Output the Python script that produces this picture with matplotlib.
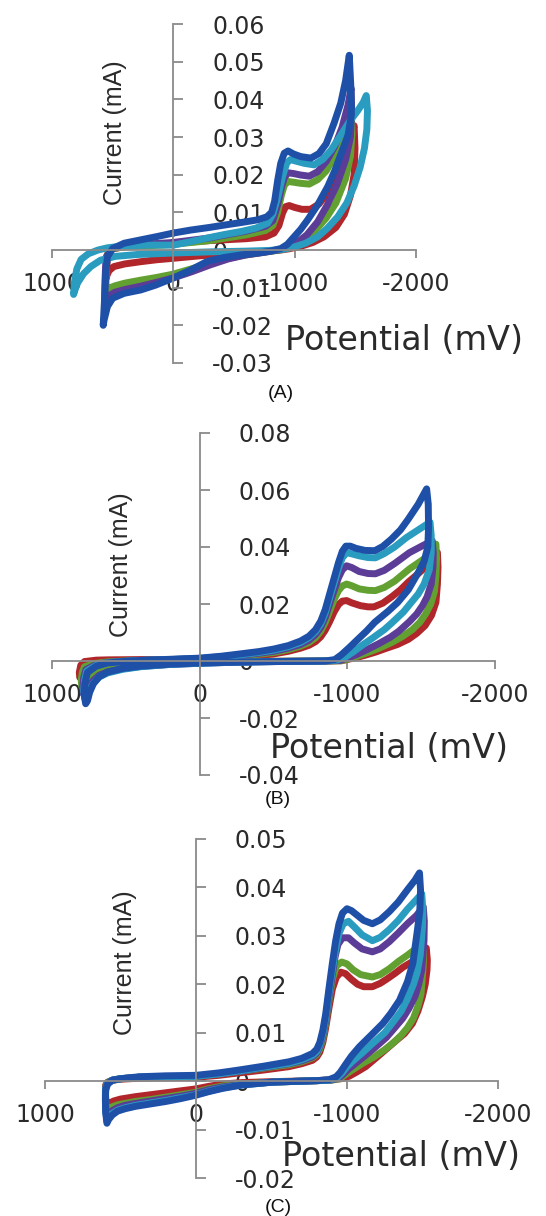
import matplotlib
matplotlib.use('Agg')
import matplotlib.pyplot as plt
from matplotlib.ticker import FuncFormatter

plt.rcParams['axes.unicode_minus'] = False
plt.rcParams['font.family'] = ['DejaVu Sans']

# ---- data: (potential mV, current mA) along each scan ----
# panel A
a_red = [(0, 0.0018), (-300, 0.0025), (-600, 0.0030), (-760, 0.0035), (-830, 0.0045), (-870, 0.0065), (-900, 0.0098),
         (-925, 0.0115), (-955, 0.0118), (-1000, 0.0113), (-1060, 0.0108), (-1130, 0.0108), (-1200, 0.0122),
         (-1280, 0.0155), (-1350, 0.0200), (-1420, 0.0260), (-1470, 0.0310), (-1490, 0.0330), (-1497, 0.0270),
         (-1490, 0.0200), (-1460, 0.0145), (-1410, 0.0095), (-1340, 0.0060), (-1242, 0.0035), (-1150, 0.0020),
         (-1052, 0.0010), (-950, 0.0003), (-887, 0.0000), (-700, -0.0005), (-550, -0.0008), (-350, -0.0012),
         (-200, -0.0016), (0, -0.0022), (140, -0.0026), (268, -0.0031), (400, -0.0037), (490, -0.0044),
         (530, -0.0055), (548, -0.0068), (552, -0.0075), (548, -0.0040), (540, -0.0010), (500, 0.0003),
         (400, 0.0009), (250, 0.0013), (100, 0.0016), (0, 0.0018)]
a_green = [(0, 0.0015), (-300, 0.0025), (-600, 0.0040), (-760, 0.0052), (-820, 0.0065), (-860, 0.0100),
           (-890, 0.0145), (-915, 0.0172), (-945, 0.0182), (-990, 0.0180), (-1050, 0.0177), (-1120, 0.0175),
           (-1190, 0.0187), (-1260, 0.0210), (-1350, 0.0260), (-1410, 0.0305), (-1450, 0.0340), (-1468, 0.0360),
           (-1472, 0.0310), (-1460, 0.0250), (-1420, 0.0190), (-1340, 0.0125), (-1260, 0.0085), (-1160, 0.0048),
           (-1060, 0.0022), (-960, 0.0006), (-880, 0.0000), (-750, -0.0006), (-600, -0.0013), (-450, -0.0022),
           (-300, -0.0035), (-150, -0.0050), (0, -0.0064), (140, -0.0073), (268, -0.0080), (400, -0.0088),
           (480, -0.0095), (535, -0.0102), (555, -0.0110), (555, -0.0060), (548, -0.0015), (510, 0.0003),
           (400, 0.0009), (250, 0.0011), (100, 0.0013), (0, 0.0015)]
a_purple = [(0, 0.0020), (-300, 0.0032), (-600, 0.0050), (-760, 0.0063), (-820, 0.0078), (-860, 0.0120),
            (-890, 0.0165), (-915, 0.0192), (-945, 0.0205), (-990, 0.0203), (-1050, 0.0199), (-1120, 0.0196),
            (-1190, 0.0208), (-1260, 0.0235), (-1330, 0.0275), (-1390, 0.0325), (-1440, 0.0385), (-1465, 0.0430),
            (-1470, 0.0370), (-1460, 0.0300), (-1420, 0.0240), (-1350, 0.0175), (-1270, 0.0120), (-1190, 0.0075),
            (-1100, 0.0040), (-1000, 0.0015), (-900, 0.0002), (-750, -0.0006), (-600, -0.0013), (-450, -0.0024),
            (-300, -0.0040), (-150, -0.0058), (0, -0.0074), (140, -0.0086), (268, -0.0096), (400, -0.0105),
            (480, -0.0112), (535, -0.0122), (560, -0.0140), (568, -0.0152), (563, -0.0080), (555, -0.0020),
            (510, 0.0004), (400, 0.0011), (250, 0.0015), (100, 0.0018), (0, 0.0020)]
a_cyan = [(0, 0.0013), (-140, 0.0022), (-282, 0.0032), (-420, 0.0041), (-557, 0.0049), (-680, 0.0058),
          (-777, 0.0071), (-820, 0.0095), (-860, 0.0140), (-900, 0.0195), (-935, 0.0231), (-965, 0.0240),
          (-1010, 0.0236), (-1080, 0.0230), (-1160, 0.0226), (-1230, 0.0240), (-1300, 0.0265), (-1380, 0.0305),
          (-1450, 0.0340), (-1520, 0.0370), (-1565, 0.0392), (-1590, 0.0410), (-1600, 0.0370), (-1595, 0.0320),
          (-1575, 0.0270), (-1540, 0.0220), (-1490, 0.0170), (-1430, 0.0125), (-1355, 0.0088), (-1270, 0.0058),
          (-1190, 0.0035), (-1090, 0.0018), (-995, 0.0008), (-900, 0.0002), (-800, -0.0001), (-600, -0.0003),
          (-300, -0.0005), (0, -0.0008), (300, -0.0012), (480, -0.0017), (600, -0.0027), (680, -0.0044),
          (740, -0.0063), (790, -0.0088), (815, -0.0110), (822, -0.0118), (815, -0.0085), (795, -0.0050),
          (760, -0.0025), (700, -0.0010), (620, 0.0000), (540, 0.0006), (460, 0.0009), (300, 0.0012),
          (185, 0.0013), (0, 0.0013)]
a_blue = [(0, 0.0045), (-144, 0.0053), (-300, 0.0060), (-417, 0.0066), (-560, 0.0073), (-694, 0.0080),
          (-770, 0.0088), (-810, 0.0100), (-835, 0.0130), (-860, 0.0185), (-885, 0.0230), (-914, 0.0257),
          (-945, 0.0263), (-990, 0.0255), (-1050, 0.0248), (-1134, 0.0244), (-1200, 0.0256), (-1260, 0.0282),
          (-1325, 0.0337), (-1380, 0.0390), (-1420, 0.0450), (-1450, 0.0517), (-1462, 0.0440), (-1468, 0.0360),
          (-1440, 0.0305), (-1382, 0.0255), (-1330, 0.0210), (-1272, 0.0168), (-1190, 0.0120), (-1107, 0.0080),
          (-1050, 0.0055), (-995, 0.0035), (-940, 0.0015), (-887, 0.0004), (-800, -0.0003), (-694, -0.0008),
          (-560, -0.0013), (-417, -0.0020), (-281, -0.0030), (-144, -0.0053), (5, -0.0075), (144, -0.0093),
          (268, -0.0106), (405, -0.0115), (500, -0.0128), (543, -0.0150), (570, -0.0185), (578, -0.0200),
          (565, -0.0120), (557, -0.0060), (543, -0.0018), (500, 0.0004), (405, 0.0018), (268, 0.0027),
          (130, 0.0036), (0, 0.0045)]

# panel B
b_red = [(0, 0.0006), (-150, 0.0010), (-276, 0.0015), (-400, 0.0020), (-502, 0.0025), (-600, 0.0034),
         (-683, 0.0045), (-740, 0.0055), (-785, 0.0068), (-820, 0.0085), (-850, 0.0108), (-880, 0.0138),
         (-910, 0.0172), (-940, 0.0198), (-966, 0.0210), (-995, 0.0212), (-1030, 0.0204), (-1090, 0.0194),
         (-1140, 0.0190), (-1180, 0.0190), (-1240, 0.0203), (-1300, 0.0225), (-1360, 0.0250), (-1413, 0.0277),
         (-1470, 0.0302), (-1520, 0.0325), (-1570, 0.0350), (-1610, 0.0381), (-1614, 0.0330), (-1610, 0.0270),
         (-1600, 0.0206), (-1570, 0.0160), (-1526, 0.0124), (-1470, 0.0097), (-1413, 0.0076), (-1340, 0.0058),
         (-1255, 0.0043), (-1190, 0.0031), (-1119, 0.0020), (-1060, 0.0012), (-1006, 0.0006), (-960, 0.0001),
         (-850, 0.0000), (-500, -0.0001), (-250, -0.0002), (0, -0.0004), (200, -0.0007), (398, -0.0010),
         (520, -0.0014), (624, -0.0020), (714, -0.0030), (770, -0.0044), (800, -0.0058), (812, -0.0058),
         (815, -0.0040), (805, -0.0015), (780, -0.0002), (700, 0.0003), (624, 0.0004), (398, 0.0005),
         (200, 0.0005), (0, 0.0006)]
b_green = [(0, 0.0007), (-150, 0.0012), (-276, 0.0018), (-400, 0.0024), (-502, 0.0030), (-600, 0.0040),
           (-683, 0.0052), (-740, 0.0065), (-785, 0.0082), (-820, 0.0105), (-850, 0.0135), (-880, 0.0175),
           (-910, 0.0215), (-940, 0.0247), (-966, 0.0263), (-995, 0.0270), (-1030, 0.0264), (-1080, 0.0253),
           (-1140, 0.0248), (-1190, 0.0247), (-1250, 0.0258), (-1320, 0.0280), (-1420, 0.0323), (-1510, 0.0355),
           (-1560, 0.0375), (-1600, 0.0410), (-1604, 0.0360), (-1600, 0.0300), (-1590, 0.0245), (-1565, 0.0200),
           (-1530, 0.0165), (-1490, 0.0135), (-1440, 0.0110), (-1370, 0.0085), (-1300, 0.0065), (-1220, 0.0046),
           (-1140, 0.0030), (-1070, 0.0017), (-1010, 0.0008), (-960, 0.0001), (-850, 0.0000), (-500, -0.0001),
           (-250, -0.0003), (0, -0.0006), (200, -0.0010), (398, -0.0015), (520, -0.0021), (624, -0.0030),
           (680, -0.0038), (730, -0.0050), (765, -0.0068), (785, -0.0085), (798, -0.0090), (802, -0.0068),
           (795, -0.0040), (780, -0.0020), (700, -0.0008), (624, -0.0003), (500, 0.0000), (398, 0.0002),
           (200, 0.0004), (0, 0.0007)]
b_purple = [(0, 0.0008), (-150, 0.0014), (-276, 0.0020), (-400, 0.0027), (-502, 0.0034), (-600, 0.0045),
            (-683, 0.0058), (-740, 0.0073), (-785, 0.0093), (-820, 0.0118), (-850, 0.0152), (-880, 0.0200),
            (-910, 0.0247), (-940, 0.0292), (-966, 0.0320), (-995, 0.0334), (-1030, 0.0328), (-1080, 0.0314),
            (-1140, 0.0307), (-1190, 0.0306), (-1250, 0.0318), (-1320, 0.0342), (-1420, 0.0380), (-1500, 0.0402),
            (-1575, 0.0422), (-1582, 0.0380), (-1580, 0.0330), (-1568, 0.0270), (-1540, 0.0225), (-1510, 0.0195),
            (-1470, 0.0165), (-1420, 0.0138), (-1350, 0.0105), (-1290, 0.0083), (-1210, 0.0060), (-1130, 0.0039),
            (-1060, 0.0022), (-1000, 0.0010), (-950, 0.0002), (-850, 0.0000), (-500, -0.0002), (-250, -0.0004),
            (0, -0.0008), (200, -0.0012), (398, -0.0019), (520, -0.0027), (624, -0.0038), (680, -0.0050),
            (720, -0.0068), (755, -0.0092), (775, -0.0112), (788, -0.0115), (792, -0.0090), (785, -0.0058),
            (770, -0.0030), (700, -0.0012), (624, -0.0005), (500, -0.0001), (398, 0.0002), (200, 0.0005),
            (0, 0.0008)]
b_cyan = [(0, 0.0009), (-150, 0.0015), (-276, 0.0022), (-400, 0.0030), (-502, 0.0038), (-600, 0.0050),
          (-683, 0.0065), (-740, 0.0082), (-785, 0.0103), (-820, 0.0130), (-850, 0.0168), (-880, 0.0220),
          (-910, 0.0272), (-940, 0.0325), (-966, 0.0362), (-995, 0.0380), (-1030, 0.0376), (-1080, 0.0369),
          (-1140, 0.0363), (-1190, 0.0362), (-1250, 0.0377), (-1320, 0.0400), (-1400, 0.0433), (-1480, 0.0460),
          (-1560, 0.0487), (-1568, 0.0440), (-1568, 0.0380), (-1555, 0.0320), (-1520, 0.0270), (-1480, 0.0235),
          (-1380, 0.0172), (-1300, 0.0133), (-1250, 0.0110), (-1170, 0.0080), (-1100, 0.0055), (-1040, 0.0032),
          (-990, 0.0015), (-930, 0.0003), (-850, 0.0000), (-500, -0.0002), (-250, -0.0004), (0, -0.0008),
          (200, -0.0012), (398, -0.0020), (520, -0.0029), (624, -0.0042), (680, -0.0056), (720, -0.0078),
          (750, -0.0105), (765, -0.0128), (778, -0.0132), (785, -0.0105), (780, -0.0070), (765, -0.0035),
          (700, -0.0015), (624, -0.0006), (500, -0.0001), (398, 0.0002), (200, 0.0005), (0, 0.0009)]
b_blue = [(0, 0.0010), (-150, 0.0017), (-276, 0.0025), (-400, 0.0033), (-502, 0.0042), (-600, 0.0054),
          (-683, 0.0070), (-740, 0.0087), (-785, 0.0110), (-820, 0.0140), (-850, 0.0180), (-880, 0.0235),
          (-910, 0.0290), (-940, 0.0345), (-966, 0.0385), (-990, 0.0403), (-1020, 0.0403), (-1060, 0.0395),
          (-1120, 0.0388), (-1186, 0.0387), (-1240, 0.0402), (-1299, 0.0428), (-1360, 0.0460), (-1413, 0.0498),
          (-1480, 0.0550), (-1537, 0.0604), (-1548, 0.0550), (-1550, 0.0470), (-1545, 0.0400), (-1520, 0.0350),
          (-1481, 0.0311), (-1413, 0.0250), (-1340, 0.0205), (-1277, 0.0175), (-1186, 0.0136), (-1130, 0.0105),
          (-1073, 0.0077), (-1015, 0.0048), (-960, 0.0022), (-915, 0.0005), (-850, 0.0000), (-700, -0.0001),
          (-508, -0.0002), (-250, -0.0004), (0, -0.0007), (200, -0.0011), (398, -0.0018), (520, -0.0026),
          (624, -0.0039), (680, -0.0055), (720, -0.0080), (745, -0.0110), (760, -0.0140), (772, -0.0150),
          (782, -0.0120), (778, -0.0080), (760, -0.0040), (700, -0.0018), (624, -0.0007), (500, -0.0001),
          (398, 0.0002), (200, 0.0006), (0, 0.0010)]

# panel C
c_red = [(0, 0.0008), (-150, 0.0012), (-285, 0.0017), (-450, 0.0023), (-616, 0.0030), (-700, 0.0036),
         (-771, 0.0043), (-800, 0.0050), (-820, 0.0060), (-840, 0.0080), (-859, 0.0110), (-880, 0.0150),
         (-903, 0.0190), (-930, 0.0215), (-960, 0.0225), (-990, 0.0222), (-1030, 0.0210), (-1070, 0.0200),
         (-1110, 0.0195), (-1168, 0.0195), (-1220, 0.0202), (-1260, 0.0210), (-1320, 0.0223), (-1370, 0.0235),
         (-1450, 0.0250), (-1500, 0.0262), (-1525, 0.0275), (-1532, 0.0250), (-1530, 0.0230), (-1518, 0.0200),
         (-1499, 0.0174), (-1470, 0.0145), (-1433, 0.0119), (-1380, 0.0098), (-1330, 0.0085), (-1278, 0.0071),
         (-1200, 0.0050), (-1124, 0.0030), (-1060, 0.0018), (-1013, 0.0010), (-960, 0.0005), (-903, 0.0003),
         (-800, 0.0001), (-508, -0.0001), (-300, -0.0003), (-175, -0.0006), (-80, -0.0011), (0, -0.0016),
         (100, -0.0020), (200, -0.0024), (300, -0.0028), (400, -0.0032), (500, -0.0037), (545, -0.0041),
         (570, -0.0045), (585, -0.0050), (592, -0.0052), (598, -0.0035), (600, -0.0020), (598, -0.0008),
         (585, -0.0002), (554, 0.0002), (500, 0.0004), (378, 0.0006), (200, 0.0007), (0, 0.0008)]
c_green = [(0, 0.0010), (-150, 0.0015), (-285, 0.0020), (-450, 0.0027), (-616, 0.0034), (-700, 0.0040),
           (-771, 0.0048), (-800, 0.0055), (-820, 0.0067), (-840, 0.0088), (-859, 0.0120), (-880, 0.0165),
           (-903, 0.0210), (-930, 0.0238), (-965, 0.0246), (-1000, 0.0242), (-1040, 0.0230), (-1090, 0.0220),
           (-1168, 0.0215), (-1220, 0.0220), (-1280, 0.0232), (-1340, 0.0247), (-1400, 0.0260), (-1450, 0.0272),
           (-1485, 0.0285), (-1500, 0.0300), (-1506, 0.0270), (-1505, 0.0240), (-1490, 0.0180), (-1470, 0.0155),
           (-1440, 0.0130), (-1400, 0.0110), (-1360, 0.0095), (-1310, 0.0080), (-1250, 0.0065), (-1180, 0.0050),
           (-1110, 0.0038), (-1050, 0.0026), (-1010, 0.0018), (-975, 0.0010), (-950, 0.0005), (-900, 0.0002),
           (-800, 0.0001), (-508, -0.0002), (-300, -0.0006), (-175, -0.0010), (-80, -0.0016), (0, -0.0023),
           (100, -0.0028), (200, -0.0033), (300, -0.0038), (400, -0.0042), (470, -0.0046), (520, -0.0049),
           (555, -0.0053), (580, -0.0058), (592, -0.0065), (598, -0.0045), (600, -0.0025), (598, -0.0010),
           (585, -0.0003), (554, 0.0002), (500, 0.0005), (378, 0.0008), (200, 0.0009), (0, 0.0010)]
c_purple = [(0, 0.0010), (-150, 0.0015), (-285, 0.0020), (-450, 0.0028), (-616, 0.0036), (-700, 0.0042),
            (-771, 0.0050), (-800, 0.0058), (-820, 0.0072), (-840, 0.0094), (-859, 0.0125), (-880, 0.0172),
            (-903, 0.0220), (-922, 0.0258), (-940, 0.0282), (-970, 0.0296), (-1010, 0.0296), (-1050, 0.0285),
            (-1100, 0.0273), (-1168, 0.0267), (-1220, 0.0273), (-1280, 0.0288), (-1340, 0.0306), (-1400, 0.0325),
            (-1460, 0.0342), (-1505, 0.0360), (-1512, 0.0330), (-1510, 0.0290), (-1495, 0.0230), (-1475, 0.0200),
            (-1450, 0.0175), (-1410, 0.0150), (-1370, 0.0130), (-1310, 0.0108), (-1260, 0.0090), (-1180, 0.0068),
            (-1110, 0.0050), (-1050, 0.0035), (-1010, 0.0025), (-975, 0.0014), (-945, 0.0006), (-890, 0.0002),
            (-800, 0.0001), (-508, -0.0002), (-300, -0.0007), (-175, -0.0012), (-80, -0.0018), (0, -0.0025),
            (100, -0.0031), (200, -0.0036), (300, -0.0041), (400, -0.0046), (470, -0.0050), (520, -0.0055),
            (555, -0.0061), (580, -0.0068), (592, -0.0075), (598, -0.0055), (600, -0.0030), (598, -0.0012),
            (585, -0.0004), (554, 0.0002), (500, 0.0005), (378, 0.0008), (200, 0.0009), (0, 0.0010)]
c_cyan = [(0, 0.0010), (-150, 0.0015), (-285, 0.0021), (-450, 0.0029), (-616, 0.0037), (-700, 0.0044),
          (-771, 0.0053), (-800, 0.0061), (-820, 0.0075), (-840, 0.0098), (-859, 0.0130), (-880, 0.0180),
          (-903, 0.0230), (-925, 0.0272), (-947, 0.0305), (-975, 0.0325), (-1010, 0.0330), (-1050, 0.0318),
          (-1100, 0.0302), (-1168, 0.0290), (-1220, 0.0297), (-1280, 0.0313), (-1340, 0.0332), (-1400, 0.0355),
          (-1460, 0.0375), (-1495, 0.0387), (-1502, 0.0355), (-1500, 0.0320), (-1485, 0.0260), (-1465, 0.0225),
          (-1440, 0.0200), (-1400, 0.0170), (-1360, 0.0145), (-1300, 0.0120), (-1250, 0.0100), (-1170, 0.0078),
          (-1100, 0.0058), (-1040, 0.0042), (-1000, 0.0030), (-965, 0.0016), (-935, 0.0007), (-880, 0.0002),
          (-800, 0.0001), (-508, -0.0002), (-300, -0.0008), (-175, -0.0014), (-80, -0.0021), (0, -0.0028),
          (100, -0.0034), (200, -0.0040), (300, -0.0045), (400, -0.0050), (470, -0.0055), (520, -0.0060),
          (555, -0.0067), (580, -0.0075), (590, -0.0082), (598, -0.0060), (600, -0.0035), (598, -0.0015),
          (585, -0.0005), (554, 0.0002), (500, 0.0005), (378, 0.0008), (200, 0.0009), (0, 0.0010)]
c_blue = [(0, 0.0012), (-150, 0.0017), (-285, 0.0023), (-450, 0.0031), (-616, 0.0040), (-700, 0.0047),
          (-771, 0.0057), (-800, 0.0066), (-820, 0.0080), (-840, 0.0105), (-859, 0.0139), (-880, 0.0190),
          (-903, 0.0243), (-925, 0.0290), (-947, 0.0325), (-970, 0.0347), (-1000, 0.0356), (-1030, 0.0352),
          (-1070, 0.0342), (-1110, 0.0332), (-1168, 0.0325), (-1220, 0.0333), (-1280, 0.0350), (-1340, 0.0370),
          (-1400, 0.0395), (-1450, 0.0415), (-1480, 0.0430), (-1487, 0.0395), (-1482, 0.0350), (-1466, 0.0311),
          (-1436, 0.0243), (-1400, 0.0205), (-1348, 0.0167), (-1290, 0.0140), (-1237, 0.0119), (-1160, 0.0095),
          (-1082, 0.0071), (-1030, 0.0052), (-994, 0.0036), (-955, 0.0018), (-928, 0.0009), (-880, 0.0003),
          (-800, 0.0001), (-508, -0.0002), (-300, -0.0008), (-175, -0.0015), (-80, -0.0022), (0, -0.0029),
          (100, -0.0036), (200, -0.0042), (300, -0.0047), (400, -0.0052), (470, -0.0057), (520, -0.0062),
          (555, -0.0070), (580, -0.0080), (590, -0.0087), (598, -0.0065), (600, -0.0040), (598, -0.0018),
          (585, -0.0006), (554, 0.0002), (500, 0.0005), (378, 0.0009), (200, 0.0011), (0, 0.0012)]

x_ticks = [1000, 0, -1000, -2000]
a_yticks = [-0.03, -0.02, -0.01, 0, 0.01, 0.02, 0.03, 0.04, 0.05, 0.06]
b_yticks = [-0.04, -0.02, 0, 0.02, 0.04, 0.06, 0.08]
c_yticks = [-0.02, -0.01, 0, 0.01, 0.02, 0.03, 0.04, 0.05]

colors = ['#B0262A', '#62A032', '#5B3C96', '#2A9CC0', '#1F50A8']
axis_grey = '#8a8a8a'
text_col = '#2a2a2a'

W, H = 546, 1216
fig = plt.figure(figsize=(W / 100, H / 100), dpi=100)


def fx(px):
    return px / W


def fy(py):
    return 1 - py / H


def ytick_fmt(v, pos):
    if abs(v) < 1e-9:
        return '0'
    return '%.2f' % v


def make_panel(rect, ylim, yticks, curves):
    left, top, right, bottom = rect
    ax = fig.add_axes([fx(left), fy(bottom), fx(right - left), (bottom - top) / H])
    for pts, c in zip(curves, colors):
        E, I = zip(*pts)
        ax.plot(E, I, color=c, lw=5.0, solid_joinstyle='round', solid_capstyle='round', clip_on=False, zorder=2)
    ax.set_xlim(1000, -2000)
    ax.set_ylim(*ylim)
    ax.patch.set_alpha(0)
    ax.spines['left'].set_visible(False)
    ax.spines['top'].set_visible(False)
    ax.spines['right'].set_position(('data', 0))
    ax.spines['bottom'].set_position(('data', 0))
    for s in ['right', 'bottom']:
        ax.spines[s].set_color(axis_grey)
        ax.spines[s].set_linewidth(1.3)
    ax.yaxis.tick_right()
    ax.set_xticks(x_ticks)
    ax.set_xticklabels([str(v) for v in x_ticks])
    ax.set_yticks(yticks)
    ax.yaxis.set_major_formatter(FuncFormatter(ytick_fmt))
    ax.tick_params(axis='y', direction='out', length=7, width=1.3, pad=21, color=axis_grey,
                   labelcolor=text_col, labelsize=17)
    ax.tick_params(axis='x', direction='out', length=6, width=1.3, pad=10, color=axis_grey,
                   labelcolor=text_col, labelsize=17)
    return ax


# A
make_panel((52, 24, 416, 363), (-0.03, 0.06), a_yticks, [a_red, a_green, a_purple, a_cyan, a_blue])
# B
make_panel((52, 433, 495, 775), (-0.04, 0.08), b_yticks, [b_red, b_green, b_purple, b_cyan, b_blue])
# C
make_panel((45, 839, 498, 1178), (-0.02, 0.05), c_yticks, [c_red, c_green, c_purple, c_cyan, c_blue])

# axis titles placed like the pasted excel charts
for cx, cy in [(115, 133), (121, 565), (125, 963)]:
    fig.text(fx(cx), fy(cy), 'Current (mA)', rotation=90, ha='center', va='center',
             fontsize=18, family='Liberation Sans', color=text_col)
for lx, ly in [(285, 340), (270, 748), (282, 1156)]:
    fig.text(fx(lx), fy(ly), 'Potential (mV)', ha='left', va='center', fontsize=24, color=text_col)

# captions
for cx, cy, t in [(281, 393, '(A)'), (278, 800, '(B)'), (278, 1208, '(C)')]:
    fig.text(fx(cx), fy(cy), t, ha='center', va='center', fontsize=14, family='Liberation Sans', color='#111111')

fig.savefig('out.png', dpi=100)
